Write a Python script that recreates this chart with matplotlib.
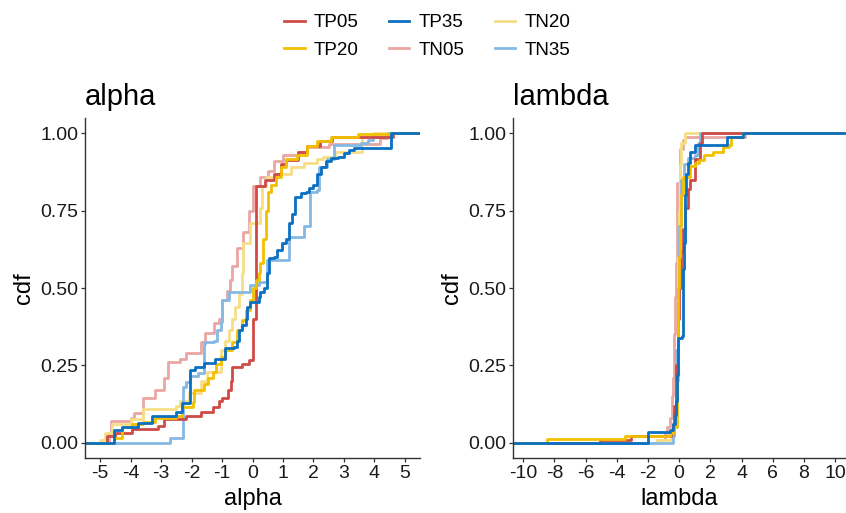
import numpy as np
import matplotlib
matplotlib.use('Agg')
from matplotlib import pyplot as plt

plt.rcParams['font.family'] = ['Liberation Sans', 'DejaVu Sans']

groups = ['TP05', 'TP20', 'TP35', 'TN05', 'TN20', 'TN35']
colors = {'TP05': '#CF4B45', 'TP20': '#F2C000', 'TP35': '#0A70C2',
          'TN05': '#E9A6A2', 'TN20': '#F7DE85', 'TN35': '#85B8E2'}

alpha_x = {
    'TP05': [-4.77, -4.5, -3.95, -3.1, -2.9, -2.2, -1.7, -1.3, -1.1, -1.0, -0.82, -0.72, -0.66, -0.33,
             -0.13, 0.03, 0.1, 0.12, 0.4, 0.7, 0.95, 1.1, 1.5, 1.8, 2.2, 2.6, 4.6],
    'TP20': [-4.54, -4.28, -3.95, -3.6, -3.2, -2.5, -2.3, -1.97, -1.93, -1.6, -1.45, -1.3, -1.2, -1.05,
             -0.9, -0.66, -0.5, -0.33, -0.23, -0.07, 0.0, 0.1, 0.2, 0.26, 0.35, 0.43, 0.5, 0.6, 0.76,
             0.92, 1.1, 1.47, 1.8, 2.13, 2.57, 3.45, 4.55],
    'TP35': [-4.56, -4.29, -3.75, -3.3, -2.5, -2.3, -2.04, -1.88, -1.6, -1.22, -0.89, -0.62, -0.5, -0.45,
             -0.33, -0.23, -0.17, -0.07, 0.2, 0.26, 0.37, 0.48, 0.53, 0.7, 0.81, 0.98, 1.09, 1.19, 1.3,
             1.4, 1.58, 1.74, 1.85, 2.0, 2.13, 2.24, 2.4, 2.57, 2.8, 3.0, 3.16, 3.33, 4.54],
    'TN05': [-4.7, -4.65, -4.0, -3.9, -3.6, -3.2, -2.9, -2.76, -2.37, -2.2, -1.7, -1.55, -1.28, -1.1,
             -1.0, -0.85, -0.75, -0.66, -0.5, -0.3, -0.13, 0.0, 0.26, 0.5, 0.7, 1.0, 1.5, 1.8, 2.5,
             4.2, 4.4],
    'TN20': [-5.0, -4.85, -4.6, -4.0, -3.6, -2.5, -2.37, -2.1, -1.7, -1.5, -1.05, -0.9, -0.78, -0.66,
             -0.56, -0.45, -0.33, -0.3, -0.07, 0.26, 0.3, 0.43, 0.76, 1.25, 1.68, 2.13, 2.3, 2.7, 3.6,
             4.0],
    'TN35': [-2.7, -2.27, -2.2, -2.04, -1.78, -1.6, -1.55, -1.28, -1.16, -1.05, -1.0, -0.78, -0.07,
             0.2, 0.48, 1.19, 1.68, 1.9, 2.13, 2.18, 2.46, 2.67, 3.55, 3.78, 3.95, 4.45],
}
alpha_cdf = {
    'TP05': [0.02, 0.03, 0.045, 0.055, 0.078, 0.085, 0.098, 0.115, 0.136, 0.146, 0.17, 0.2, 0.245, 0.255,
             0.266, 0.4, 0.46, 0.83, 0.85, 0.87, 0.9, 0.915, 0.94, 0.96, 0.975, 0.99, 1.0],
    'TP20': [0.016, 0.05, 0.06, 0.066, 0.08, 0.087, 0.115, 0.13, 0.17, 0.19, 0.21, 0.23, 0.255, 0.277,
             0.30, 0.325, 0.364, 0.396, 0.43, 0.46, 0.50, 0.526, 0.55, 0.58, 0.66, 0.75, 0.81, 0.834,
             0.86, 0.89, 0.916, 0.93, 0.958, 0.974, 0.987, 0.997, 1.0],
    'TP35': [0.04, 0.05, 0.065, 0.085, 0.10, 0.127, 0.234, 0.245, 0.257, 0.27, 0.305, 0.31, 0.33, 0.364,
             0.38, 0.40, 0.44, 0.455, 0.47, 0.487, 0.50, 0.55, 0.597, 0.60, 0.623, 0.646, 0.66, 0.71,
             0.74, 0.795, 0.808, 0.81, 0.825, 0.834, 0.87, 0.89, 0.91, 0.92, 0.925, 0.938, 0.948,
             0.953, 1.0],
    'TN05': [0.03, 0.07, 0.08, 0.097, 0.146, 0.17, 0.21, 0.26, 0.27, 0.29, 0.325, 0.354, 0.386, 0.40,
             0.46, 0.49, 0.526, 0.57, 0.63, 0.68, 0.75, 0.83, 0.86, 0.88, 0.91, 0.93, 0.94, 0.955,
             0.965, 0.984, 1.0],
    'TN20': [0.01, 0.03, 0.06, 0.078, 0.11, 0.12, 0.136, 0.16, 0.2, 0.23, 0.30, 0.33, 0.364, 0.40,
             0.44, 0.48, 0.55, 0.646, 0.71, 0.76, 0.83, 0.86, 0.87, 0.89, 0.905, 0.916, 0.925, 0.94,
             0.987, 1.0],
    'TN35': [0.016, 0.18, 0.195, 0.217, 0.224, 0.32, 0.325, 0.33, 0.364, 0.39, 0.46, 0.487, 0.51,
             0.52, 0.59, 0.666, 0.70, 0.81, 0.818, 0.89, 0.916, 0.964, 0.97, 0.98, 0.99, 1.0],
}

lambda_x = {
    'TP05': [-5.06, -3.1, -0.5, -0.4, -0.3, -0.2, -0.1, 0.0, 0.1, 0.15, 0.26, 0.38, 0.58, 0.7, 1.03,
             1.35, 1.47],
    'TP20': [-8.5, -3.46, -0.6, -0.3, -0.15, -0.1, -0.06, -0.02, 0.05, 0.15, 0.26, 0.7, 1.0, 1.3, 1.6,
             2.2, 2.8, 3.2, 3.3, 4.1],
    'TP35': [-2.0, -0.58, -0.38, -0.26, -0.19, -0.13, -0.06, 0.19, 0.26, 0.3, 0.38, 0.45, 0.58, 0.7,
             1.03, 3.06, 4.1],
    'TN05': [-1.4, -0.9, -0.77, -0.58, -0.45, -0.38, -0.3, -0.26, -0.18, -0.13, 0.06, 0.26, 0.38, 4.2],
    'TN20': [-1.4, -0.5, -0.3, -0.2, -0.15, -0.1, -0.05, 0.0, 0.06, 0.15, 0.38],
    'TN35': [-0.4, -0.3, -0.2, -0.1, 0.0, 0.1, 0.3, 0.6, 1.0, 1.2, 1.35],
}
lambda_cdf = {
    'TP05': [0.01, 0.02, 0.03, 0.06, 0.12, 0.25, 0.4, 0.5, 0.55, 0.62, 0.69, 0.76, 0.82, 0.85, 0.916,
             0.97, 1.0],
    'TP20': [0.013, 0.02, 0.03, 0.05, 0.2, 0.35, 0.5, 0.6, 0.7, 0.8, 0.86, 0.895, 0.905, 0.915, 0.93,
             0.94, 0.955, 0.964, 0.987, 1.0],
    'TP35': [0.035, 0.04, 0.06, 0.088, 0.136, 0.22, 0.34, 0.345, 0.56, 0.646, 0.80, 0.87, 0.905, 0.94,
             0.964, 0.987, 1.0],
    'TN05': [0.01, 0.03, 0.05, 0.08, 0.15, 0.21, 0.35, 0.47, 0.58, 0.84, 0.95, 0.98, 0.99, 1.0],
    'TN20': [0.01, 0.02, 0.06, 0.15, 0.3, 0.45, 0.6, 0.75, 0.9, 0.97, 1.0],
    'TN35': [0.02, 0.1, 0.3, 0.5, 0.7, 0.85, 0.9, 0.92, 0.93, 0.97, 1.0],
}

alpha_ticks = list(range(-5, 6))
lambda_ticks = list(range(-10, 11, 2))
cdf_ticks = [0.0, 0.25, 0.5, 0.75, 1.0]

fig = plt.figure(figsize=(8.46, 5.13), dpi=100)
ax1 = fig.add_axes([0.1005, 0.107, 0.396, 0.663])
ax2 = fig.add_axes([0.6064, 0.107, 0.3936, 0.663])

draw_order = ['TN05', 'TN20', 'TN35', 'TP05', 'TP20', 'TP35']


def panel(ax, xs, ys, name, ticks, lim):
    for g in draw_order:
        x = np.r_[-100, xs[g], 100]
        y = np.r_[0, ys[g], 1]
        ax.step(x, y, where='post', color=colors[g], lw=2.0, label=g)
    ax.set_xlim(*lim)
    ax.set_ylim(-0.05, 1.05)
    ax.set_xticks(ticks)
    ax.set_xticklabels([str(t) for t in ticks])
    ax.set_yticks(cdf_ticks)
    ax.set_yticklabels(['%.2f' % t for t in cdf_ticks])
    for s in ['top', 'right']:
        ax.spines[s].set_visible(False)
    for s in ['left', 'bottom']:
        ax.spines[s].set_color('#333333')
        ax.spines[s].set_linewidth(1.0)
    ax.tick_params(length=3, width=0.9, color='#333333', labelsize=14, labelcolor='#1a1a1a', pad=2)
    ax.set_xlabel(name, fontsize=17, labelpad=4)
    ax.set_ylabel('cdf', fontsize=17, labelpad=4)
    ax.set_title(name, loc='left', fontsize=21, pad=9)


panel(ax1, alpha_x, alpha_cdf, 'alpha', alpha_ticks, (-5.5, 5.5))
panel(ax2, lambda_x, lambda_cdf, 'lambda', lambda_ticks, (-10.65, 10.7))

handles = {h.get_label(): h for h in ax1.get_lines()}
fig.legend([handles[g] for g in groups], groups, loc='upper center', ncol=3,
           bbox_to_anchor=(0.505, 1.005), frameon=False, fontsize=13.5,
           handlelength=1.1, columnspacing=1.6, labelspacing=0.55, handletextpad=0.5)

fig.savefig('out.png', dpi=100)
